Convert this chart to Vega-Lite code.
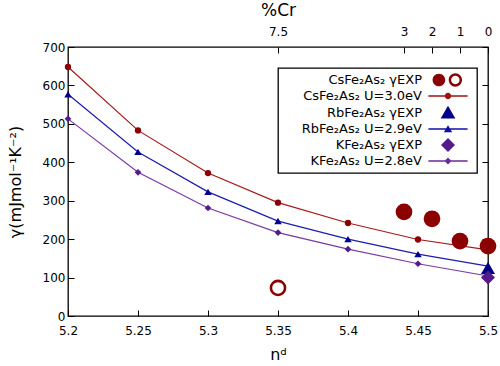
{
  "$schema": "https://vega.github.io/schema/vega-lite/v6.json",
  "width": 420,
  "height": 269,
  "autosize": {"type": "none"},
  "padding": {"left": 68, "top": 47, "right": 12, "bottom": 50},
  "background": "white",
  "config": {
    "font": "DejaVu Sans",
    "view": {"stroke": "black", "strokeWidth": 1.3},
    "legend": {"strokeWidth": 1.3},
    "axis": {
      "grid": false,
      "domain": false,
      "tickColor": "black",
      "tickWidth": 1,
      "tickSize": -6,
      "labelColor": "black",
      "titleColor": "black",
      "labelFont": "DejaVu Sans",
      "titleFont": "DejaVu Sans",
      "labelFontSize": 12,
      "titleFontSize": 16,
      "titleFontWeight": "normal",
      "labelFlush": false,
      "labelOverlap": false
    }
  },
  "datasets": {
    "gamma": [
      {"compound": "CsFe₂As₂", "kind": "calc", "series": "CsFe₂As₂ U=3.0eV", "nd": 5.2, "gamma": 648},
      {"compound": "CsFe₂As₂", "kind": "calc", "series": "CsFe₂As₂ U=3.0eV", "nd": 5.25, "gamma": 483},
      {"compound": "CsFe₂As₂", "kind": "calc", "series": "CsFe₂As₂ U=3.0eV", "nd": 5.3, "gamma": 372},
      {"compound": "CsFe₂As₂", "kind": "calc", "series": "CsFe₂As₂ U=3.0eV", "nd": 5.35, "gamma": 295},
      {"compound": "CsFe₂As₂", "kind": "calc", "series": "CsFe₂As₂ U=3.0eV", "nd": 5.4, "gamma": 242},
      {"compound": "CsFe₂As₂", "kind": "calc", "series": "CsFe₂As₂ U=3.0eV", "nd": 5.45, "gamma": 199},
      {"compound": "CsFe₂As₂", "kind": "calc", "series": "CsFe₂As₂ U=3.0eV", "nd": 5.5, "gamma": 172},
      {"compound": "RbFe₂As₂", "kind": "calc", "series": "RbFe₂As₂ U=2.9eV", "nd": 5.2, "gamma": 577},
      {"compound": "RbFe₂As₂", "kind": "calc", "series": "RbFe₂As₂ U=2.9eV", "nd": 5.25, "gamma": 427},
      {"compound": "RbFe₂As₂", "kind": "calc", "series": "RbFe₂As₂ U=2.9eV", "nd": 5.3, "gamma": 323},
      {"compound": "RbFe₂As₂", "kind": "calc", "series": "RbFe₂As₂ U=2.9eV", "nd": 5.35, "gamma": 247},
      {"compound": "RbFe₂As₂", "kind": "calc", "series": "RbFe₂As₂ U=2.9eV", "nd": 5.4, "gamma": 200},
      {"compound": "RbFe₂As₂", "kind": "calc", "series": "RbFe₂As₂ U=2.9eV", "nd": 5.45, "gamma": 161},
      {"compound": "RbFe₂As₂", "kind": "calc", "series": "RbFe₂As₂ U=2.9eV", "nd": 5.5, "gamma": 130},
      {"compound": "KFe₂As₂", "kind": "calc", "series": "KFe₂As₂ U=2.8eV", "nd": 5.2, "gamma": 513},
      {"compound": "KFe₂As₂", "kind": "calc", "series": "KFe₂As₂ U=2.8eV", "nd": 5.25, "gamma": 374},
      {"compound": "KFe₂As₂", "kind": "calc", "series": "KFe₂As₂ U=2.8eV", "nd": 5.3, "gamma": 281},
      {"compound": "KFe₂As₂", "kind": "calc", "series": "KFe₂As₂ U=2.8eV", "nd": 5.35, "gamma": 217},
      {"compound": "KFe₂As₂", "kind": "calc", "series": "KFe₂As₂ U=2.8eV", "nd": 5.4, "gamma": 174},
      {"compound": "KFe₂As₂", "kind": "calc", "series": "KFe₂As₂ U=2.8eV", "nd": 5.45, "gamma": 136},
      {"compound": "KFe₂As₂", "kind": "calc", "series": "KFe₂As₂ U=2.8eV", "nd": 5.5, "gamma": 104},
      {"compound": "CsFe₂As₂", "kind": "exp", "series": "CsFe₂As₂ γEXP", "nd": 5.44, "gamma": 271},
      {"compound": "CsFe₂As₂", "kind": "exp", "series": "CsFe₂As₂ γEXP", "nd": 5.46, "gamma": 253},
      {"compound": "CsFe₂As₂", "kind": "exp", "series": "CsFe₂As₂ γEXP", "nd": 5.48, "gamma": 195},
      {"compound": "CsFe₂As₂", "kind": "exp", "series": "CsFe₂As₂ γEXP", "nd": 5.5, "gamma": 182},
      {"compound": "CsFe₂As₂", "kind": "exp2", "series": "CsFe₂As₂ γEXP", "nd": 5.35, "gamma": 73},
      {"compound": "RbFe₂As₂", "kind": "exp", "series": "RbFe₂As₂ γEXP", "nd": 5.5, "gamma": 125},
      {"compound": "KFe₂As₂", "kind": "exp", "series": "KFe₂As₂ γEXP", "nd": 5.5, "gamma": 100}
    ]
  },
  "data": {"name": "gamma"},
  "layer": [
    {
      "encoding": {
        "x": {
          "field": "nd", "type": "quantitative",
          "scale": {"domain": [5.2, 5.5], "nice": false, "zero": false},
          "axis": {"orient": "bottom", "values": [5.2, 5.25, 5.3, 5.35, 5.4, 5.45, 5.5], "format": ".2~f", "labelPadding": 15, "title": "nᵈ", "titlePadding": 10}
        },
        "y": {
          "field": "gamma", "type": "quantitative",
          "scale": {"domain": [0, 700], "nice": false, "zero": false},
          "axis": {"orient": "left", "values": [0, 100, 200, 300, 400, 500, 600, 700], "format": "d", "labelPadding": 9, "title": "γ(mJmol⁻¹K⁻²)", "titlePadding": 19}
        }
      },
      "layer": [
        {
          "transform": [{"filter": "datum.compound == 'CsFe₂As₂' && datum.kind == 'calc'"}],
          "mark": {"type": "line", "color": "#a81818", "strokeWidth": 1.2, "point": {"shape": "circle", "size": 40, "filled": true, "color": "#8b0000", "opacity": 1}}
        },
        {
          "transform": [{"filter": "datum.compound == 'RbFe₂As₂' && datum.kind == 'calc'"}],
          "mark": {"type": "line", "color": "#1c1cb0", "strokeWidth": 1.2, "point": {"shape": "triangle-up", "size": 55, "filled": true, "color": "#00008b", "opacity": 1}}
        },
        {
          "transform": [{"filter": "datum.compound == 'KFe₂As₂' && datum.kind == 'calc'"}],
          "mark": {"type": "line", "color": "#7a3aa6", "strokeWidth": 1.2, "point": {"shape": "diamond", "size": 45, "filled": true, "color": "#551a8b", "opacity": 1}}
        },
        {
          "transform": [{"filter": "datum.compound == 'CsFe₂As₂' && datum.kind == 'exp'"}],
          "mark": {"type": "point", "shape": "circle", "size": 280, "filled": true, "color": "#8b0000", "opacity": 1}
        },
        {
          "transform": [{"filter": "datum.compound == 'CsFe₂As₂' && datum.kind == 'exp2'"}],
          "mark": {"type": "point", "shape": "circle", "size": 200, "filled": false, "color": "#8b0000", "strokeWidth": 2.6, "opacity": 1}
        },
        {
          "transform": [{"filter": "datum.compound == 'RbFe₂As₂' && datum.kind == 'exp'"}],
          "mark": {"type": "point", "shape": "triangle-up", "size": 196, "filled": true, "color": "#00008b", "opacity": 1}
        },
        {
          "transform": [{"filter": "datum.compound == 'KFe₂As₂' && datum.kind == 'exp'"}],
          "mark": {"type": "point", "shape": "diamond", "size": 196, "filled": true, "color": "#551a8b", "opacity": 1}
        },
        {
          "transform": [{"filter": "datum.kind == 'legend-only'"}],
          "mark": {"type": "point", "filled": true, "opacity": 1},
          "encoding": {
            "color": {
              "field": "series", "type": "nominal",
              "scale": {
                "domain": ["CsFe₂As₂ γEXP", "CsFe₂As₂ U=3.0eV", "RbFe₂As₂ γEXP", "RbFe₂As₂ U=2.9eV", "KFe₂As₂ γEXP", "KFe₂As₂ U=2.8eV"],
                "range": ["#8b0000", "#a01010", "#00008b", "#1010a8", "#551a8b", "#6a2a9c"]
              },
              "legend": {
                "orient": "none", "legendX": 210, "legendY": 21,
                "title": null,
                "padding": 5,
                "strokeColor": "black", "fillColor": "white", "cornerRadius": 0,
                "labelFont": "DejaVu Sans", "labelFontSize": 13, "labelColor": "black",
                "labelAlign": "right", "labelOffset": -33, "labelLimit": 300,
                "symbolOffset": 158, "symbolSize": 196, "symbolStrokeWidth": 0, "symbolOpacity": 1,
                "rowPadding": 2
              }
            },
            "shape": {
              "field": "series", "type": "nominal",
              "scale": {
                "domain": ["CsFe₂As₂ γEXP", "CsFe₂As₂ U=3.0eV", "RbFe₂As₂ γEXP", "RbFe₂As₂ U=2.9eV", "KFe₂As₂ γEXP", "KFe₂As₂ U=2.8eV"],
                "range": [
                  "M-23.6,0L-23.6,0.01L-23.59,0ZM3.3,0L3.3,0.01L3.29,0ZM-2.2,0A0.9,0.9 0 1,1 -0.4,0A0.9,0.9 0 1,1 -2.2,0ZM0.1,0A0.95,0.95 0 1,1 2,0A0.95,0.95 0 1,1 0.1,0ZM0.45,0A0.6,0.6 0 1,0 1.65,0A0.6,0.6 0 1,0 0.45,0Z",
                  "M-2.8,-0.09H2.8V0.09H-2.8ZM-0.45,0A0.45,0.45 0 1,1 0.45,0A0.45,0.45 0 1,1 -0.45,0Z",
                  "M0,-1.05L1.05,0.8L-1.05,0.8Z",
                  "M-2.8,-0.09H2.8V0.09H-2.8ZM0,-0.55L0.6,0.45L-0.6,0.45Z",
                  "M0,-1L1,0L0,1L-1,0Z",
                  "M-2.8,-0.09H2.8V0.09H-2.8ZM0,-0.5L0.5,0L0,0.5L-0.5,0Z"
                ]
              }
            }
          }
        }
      ]
    },
    {
      "mark": {"type": "point", "opacity": 0},
      "encoding": {
        "x": {
          "field": "nd", "type": "quantitative",
          "scale": {"domain": [5.2, 5.5], "nice": false, "zero": false},
          "axis": {
            "orient": "top",
            "values": [5.35, 5.44, 5.46, 5.48, 5.5],
            "labelExpr": "abs(datum.value - 5.35) < 0.001 ? '7.5' : abs(datum.value - 5.44) < 0.001 ? '3' : abs(datum.value - 5.46) < 0.001 ? '2' : abs(datum.value - 5.48) < 0.001 ? '1' : '0'",
            "labelPadding": 15,
            "title": "%Cr",
            "titleFontSize": 17,
            "titlePadding": 6
          }
        },
        "y": {
          "field": "gamma", "type": "quantitative",
          "scale": {"domain": [0, 700], "nice": false, "zero": false},
          "axis": {"orient": "right", "values": [0, 100, 200, 300, 400, 500, 600, 700], "labels": false, "title": null}
        }
      }
    }
  ],
  "resolve": {"scale": {"x": "independent", "y": "independent"}, "axis": {"x": "independent", "y": "independent"}}
}
